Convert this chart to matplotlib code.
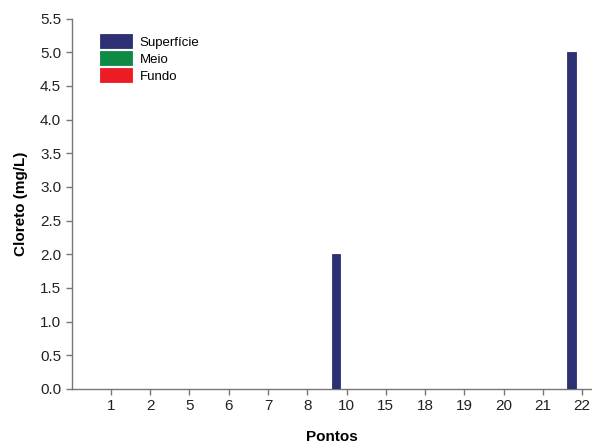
import numpy as np
import matplotlib.pyplot as plt

plt.rcParams['font.family'] = ['Liberation Sans', 'DejaVu Sans']

# sampling points and chloride values (mg/L) at three depths
pontos = ['1', '2', '5', '6', '7', '8', '10', '15', '18', '19', '20', '21', '22']
superficie = [0, 0, 0, 0, 0, 0, 2.0, 0, 0, 0, 0, 0, 5.0]
meio = [0, np.nan, np.nan, 0, np.nan, np.nan, np.nan, np.nan, np.nan, np.nan, 0, 0, np.nan]
fundo = [0, np.nan, np.nan, 0, np.nan, np.nan, np.nan, np.nan, np.nan, np.nan, 0, 0, np.nan]

series = [('Superfície', superficie, '#2e3074'),
          ('Meio', meio, '#0f8a45'),
          ('Fundo', fundo, '#ec1c24')]

fig = plt.figure(figsize=(5.92, 4.44), dpi=100)
ax = fig.add_axes([0.121, 0.124, 0.879, 0.834])

x = np.arange(1, len(pontos) + 1)
w = 0.22
for k, (name, vals, col) in enumerate(series):
    ax.bar(x + (k - 1) * 0.27, vals, width=w, color=col, edgecolor=col,
           linewidth=0.6, label=name, zorder=3)

ax.set_xlim(0, 13.25)
ax.set_ylim(0, 5.5)
ax.set_xticks(x)
ax.set_xticklabels(pontos)
ax.set_yticks(np.arange(0, 5.51, 0.5))
ax.set_yticklabels([f'{v:.1f}' for v in np.arange(0, 5.51, 0.5)])

for s in ['top', 'right']:
    ax.spines[s].set_visible(False)
for s in ['left', 'bottom']:
    ax.spines[s].set_color('#777777')
    ax.spines[s].set_linewidth(1.0)
ax.tick_params(axis='both', labelsize=11, colors='#777777', labelcolor='#222222',
               length=4, width=1.0, direction='out')

ax.set_xlabel('Pontos', fontsize=11, fontweight='bold', labelpad=12)
ax.set_ylabel('Cloreto (mg/L)', fontsize=11, fontweight='bold', labelpad=9)

leg = ax.legend(loc='upper left', bbox_to_anchor=(0.045, 0.972), frameon=False,
                fontsize=9.5, handlelength=2.4, handleheight=1.25,
                labelspacing=0.2, handletextpad=0.6, borderaxespad=0)

plt.savefig('out.png', dpi=100)
